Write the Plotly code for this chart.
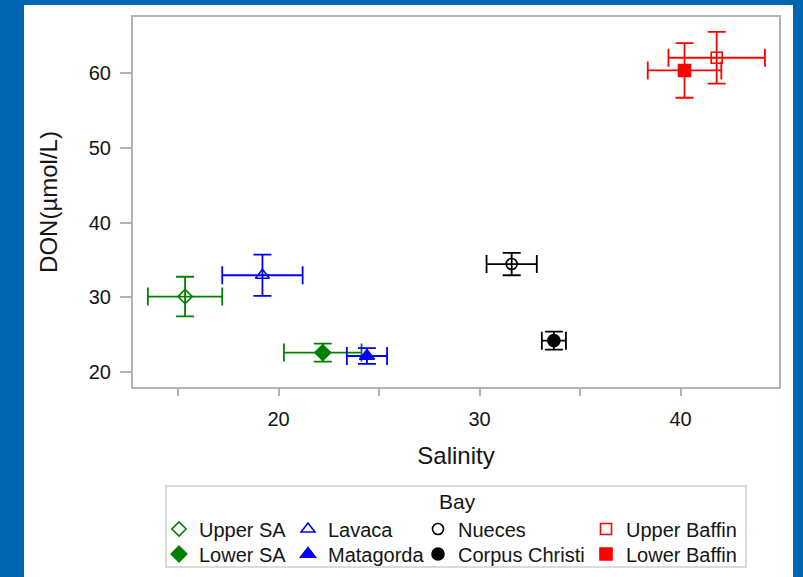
import plotly.graph_objects as go

# ---- data ----
bays = ["Upper SA", "Lower SA", "Lavaca", "Matagorda", "Nueces", "Corpus Christi", "Upper Baffin", "Lower Baffin"]
salinity = [15.35, 22.2, 19.2, 24.4, 31.6, 33.7, 41.8, 40.2]
salinity_err = [1.85, 1.93, 2.0, 1.0, 1.25, 0.6, 2.4, 1.83]
don = [30.1, 22.6, 32.95, 22.15, 34.45, 24.2, 62.05, 60.35]
don_err = [2.65, 1.2, 2.75, 1.05, 1.5, 1.2, 3.45, 3.65]

colors = ["#008000", "#008000", "#0000FF", "#0000FF", "#000000", "#000000", "#FF0000", "#FF0000"]
symbols = ["diamond-open", "diamond", "triangle-up-open", "triangle-up",
           "circle-open", "circle", "square-open", "square"]
sizes = [11, 12, 12, 13, 11, 12, 11, 12]

x_tickvals = [15, 20, 25, 30, 35, 40]
x_ticktext = ["", "20", "", "30", "", "40"]
y_tickvals = [20, 30, 40, 50, 60]

# ---- layout geometry (pixels) ----
W, H = 803, 577
ML, MR, MT, MB = 133, 24, 17, 190
PW, PH = W - ML - MR, H - MT - MB


def px_x(p):
    return (p - ML) / PW


def px_y(p):
    return (H - MB - p) / PH


FONT = "Liberation Sans, Arial, sans-serif"
TXT = "#151515"
GRAY = "#b3b3b3"

fig = go.Figure()

# legend slot positions (pixels): marker centre x, row centre y
leg_cols = [181, 310, 440, 608]
leg_rows = [529, 554]

for i, name in enumerate(bays):
    col, row = i // 2, i % 2
    lname = "legend" if i == 0 else f"legend{i + 1}"
    fig.add_trace(go.Scatter(
        x=[salinity[i]], y=[don[i]], mode="markers", name=name,
        marker=dict(symbol=symbols[i], size=sizes[i], color=colors[i],
                    line=dict(color=colors[i], width=1.6)),
        error_x=dict(type="data", array=[salinity_err[i]], color=colors[i], thickness=1.8, width=9),
        error_y=dict(type="data", array=[don_err[i]], color=colors[i], thickness=1.8, width=9),
        legend=lname, showlegend=True,
    ))
    fig.update_layout({lname: dict(
        x=px_x(leg_cols[col] - 22), y=px_y(leg_rows[row]), xanchor="left", yanchor="middle",
        bgcolor="rgba(0,0,0,0)", borderwidth=0,
        font=dict(family=FONT, size=20, color=TXT),
    )})

fig.update_layout(
    width=W, height=H,
    margin=dict(l=ML, r=MR, t=MT, b=MB, pad=0, autoexpand=False),
    paper_bgcolor="#0066B2",
    plot_bgcolor="white",
    font=dict(family=FONT, color=TXT),
    xaxis=dict(
        range=[12.76, 44.9], tickvals=x_tickvals, ticktext=x_ticktext,
        showgrid=False, zeroline=False, showline=True, mirror=True,
        linecolor=GRAY, linewidth=2, ticks="outside", ticklen=7, tickwidth=1.5, tickcolor=GRAY,
        tickfont=dict(family=FONT, size=20, color=TXT), ticklabelstandoff=6,
        title=dict(text="Salinity", font=dict(family=FONT, size=24, color=TXT), standoff=18),
    ),
    yaxis=dict(
        range=[18.0, 67.5], tickvals=y_tickvals,
        showgrid=False, zeroline=False, showline=True, mirror=True,
        linecolor=GRAY, linewidth=2, ticks="outside", ticklen=11, tickwidth=1.5, tickcolor=GRAY,
        tickfont=dict(family=FONT, size=20, color=TXT), ticklabelstandoff=5,
        title=dict(text="DON(µmol/L)", font=dict(family=FONT, size=24, color=TXT), standoff=24),
    ),
    shapes=[
        dict(type="rect", xref="paper", yref="paper", layer="below",
             x0=px_x(24), x1=px_x(793), y0=px_y(5), y1=px_y(H + 5),
             fillcolor="white", line=dict(width=0)),
        dict(type="rect", xref="paper", yref="paper", layer="above",
             x0=px_x(166), x1=px_x(746), y0=px_y(486), y1=px_y(567),
             fillcolor="rgba(0,0,0,0)", line=dict(color="#cfcfcf", width=1.5)),
    ],
    annotations=[
        dict(text="Bay", xref="paper", yref="paper", x=px_x(457), y=px_y(501),
             xanchor="center", yanchor="middle", showarrow=False,
             font=dict(family=FONT, size=21, color=TXT)),
    ],
)

fig.write_html("out.html")
